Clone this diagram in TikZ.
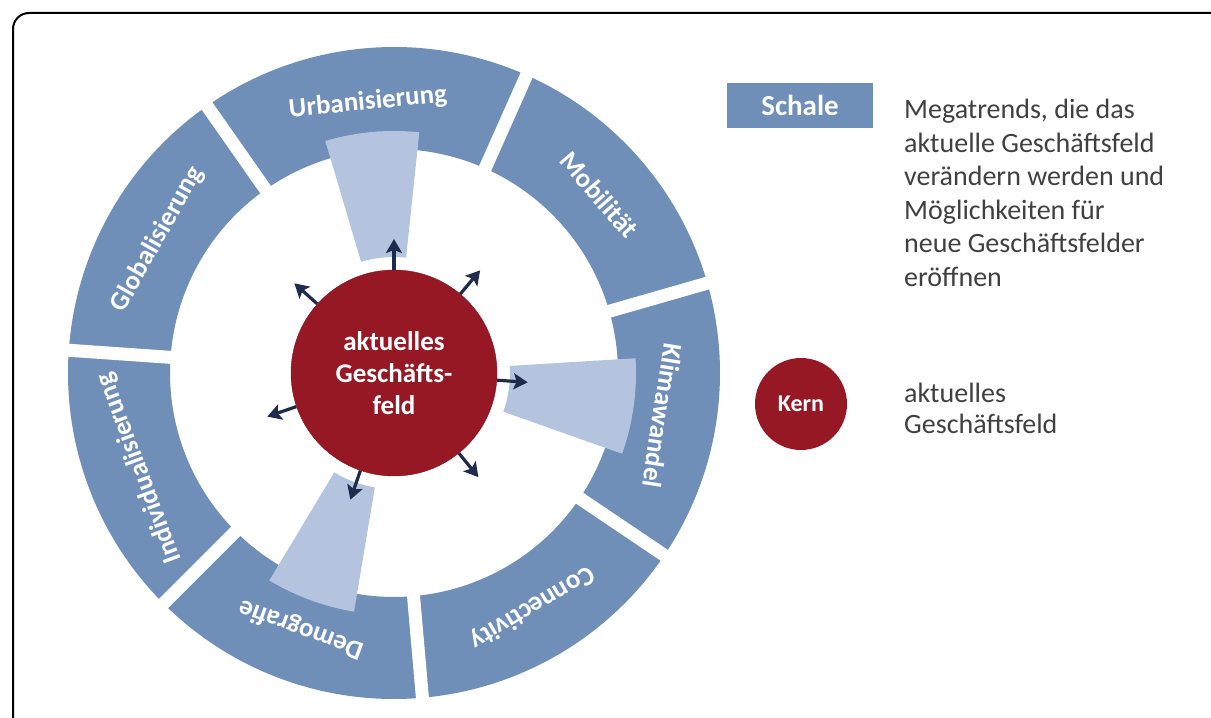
\documentclass[tikz,border=0pt]{standalone}
\usepackage{fontspec}
\setmainfont{Carlito}
\usetikzlibrary{arrows.meta}

\definecolor{ringblau}{RGB}{111,142,184}
\definecolor{keilblau}{RGB}{181,196,222}
\definecolor{kernrot}{RGB}{150,24,36}
\definecolor{pfeilblau}{RGB}{31,43,77}
\definecolor{textgrau}{RGB}{64,64,64}
\newcommand{\schrift}[2]{\fontsize{#1}{#2}\selectfont}

\begin{document}
\begin{tikzpicture}[x=1pt,y=1pt,
  segment/.style={fill=ringblau},
  trend/.style={text=white,inner sep=0pt,font=\schrift{27}{32}\bfseries},
  keil/.style={fill=keilblau},
  fuge/.style={draw=white,line width=13pt},
  pfeil/.style={draw=pfeilblau,line width=3.2pt,-{Stealth[length=14pt,width=16pt,inset=3pt]}},
  legende/.style={text=textgrau,align=left,inner sep=0pt}]
\clip (0,0) rectangle (1211,718);
\draw[line width=2pt,rounded corners=16pt] (13,-10) |- (1230,705);

\begin{scope}[shift={(394,345)}]
% Schale: sieben Megatrends als Ringsegmente
\foreach \a/\b/\n/\txt in {66/125/urb/Urbanisierung,125/176/glob/Globalisierung,
    176/225/indiv/Individualisierung,225/275/demo/Demografie,275/326/conn/Connectivity,
    326/376/klima/Klimawandel,16/66/mobil/Mobilität}{
  \fill[segment] (\a:224) arc[start angle=\a,end angle=\b,radius=224]
    -- (\b:326) arc[start angle=\b,end angle=\a,radius=326] -- cycle;
  \pgfmathsetmacro\m{(\a+\b)/2}
  \node[trend,rotate=\m-90] (\n) at (\m:272) {\txt};
}
\foreach \g in {16,66,125,176,225,275,326}
  \draw[fuge] (\g:214) -- (\g:336);

% Keile zu den betroffenen Trends
\foreach \a/\b in {84/106.5,-19.5/3.5,-121/-99.5}
  \fill[keil] (\a:116) arc[start angle=\a,end angle=\b,radius=116]
    -- (\b:242) arc[start angle=\b,end angle=\a,radius=242] -- cycle;

% Kern
\node[circle,fill=kernrot,draw=kernrot!85!black,minimum size=206pt,inner sep=0pt,
  text=white,align=center,font=\schrift{27}{32}\bfseries] (feld) at (0,0)
  {aktuelles\\Geschäfts-\\feld};
\foreach \w [count=\i] in {90,50,356,309,251,199,138}{
  \coordinate (spitze\i) at (\w:134);
  \draw[pfeil] (feld.\w) -- (spitze\i);
}
\end{scope}

% Legende
\node[fill=ringblau,minimum width=146pt,minimum height=45pt,inner sep=0pt,
  text=white,font=\schrift{29}{34}\bfseries] (schale) at (800,612.5) {Schale};
\node[legende,anchor=north west,font=\schrift{28}{33.5}] (megatrends) at (904,619)
  {Megatrends, die das\\aktuelle Geschäftsfeld\\verändern werden und\\Möglichkeiten für\\neue Geschäftsfelder\\eröffnen};
\node[circle,fill=kernrot,minimum size=92pt,inner sep=0pt,
  text=white,font=\schrift{24}{28}\bfseries] (kern) at (801,314) {Kern};
\node[legende,anchor=west,font=\schrift{28}{31}] (kerntext) at (904,310)
  {aktuelles\\Geschäftsfeld};
\end{tikzpicture}
\end{document}
